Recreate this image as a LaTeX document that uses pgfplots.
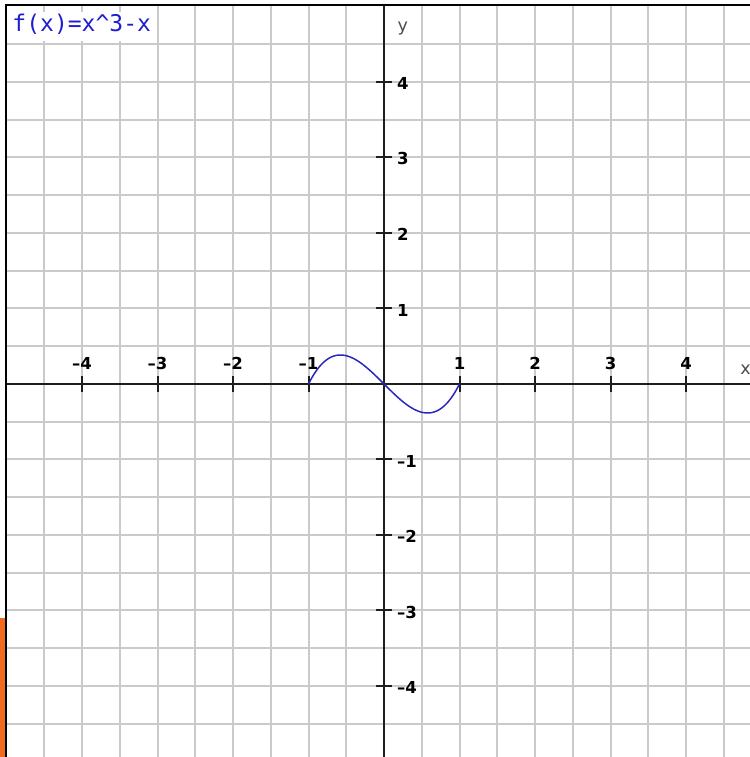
\documentclass[border=0pt]{standalone}
\usepackage{pgfplots}
\pgfplotsset{compat=1.18}
\usepackage{fontspec}
\setmainfont{DejaVu Sans}
\newfontfamily\monofont{DejaVu Sans Mono}
\definecolor{gridgray}{RGB}{202,202,202}
\definecolor{curveblue}{RGB}{40,40,185}
\definecolor{titleblue}{RGB}{30,30,205}
\definecolor{edgeorange}{RGB}{242,106,30}
\definecolor{axisdark}{RGB}{30,30,30}

% f(x) = x^3 - x sampled on [-1, 1]
\pgfplotstableread{
x       y
-1.00   0.0000
-0.95   0.0926
-0.90   0.1710
-0.85   0.2359
-0.80   0.2880
-0.75   0.3281
-0.70   0.3570
-0.65   0.3754
-0.60   0.3840
-0.55   0.3836
-0.50   0.3750
-0.45   0.3589
-0.40   0.3360
-0.35   0.3071
-0.30   0.2730
-0.25   0.2344
-0.20   0.1920
-0.15   0.1466
-0.10   0.0990
-0.05   0.0499
 0.00   0.0000
 0.05  -0.0499
 0.10  -0.0990
 0.15  -0.1466
 0.20  -0.1920
 0.25  -0.2344
 0.30  -0.2730
 0.35  -0.3071
 0.40  -0.3360
 0.45  -0.3589
 0.50  -0.3750
 0.55  -0.3836
 0.60  -0.3840
 0.65  -0.3754
 0.70  -0.3570
 0.75  -0.3281
 0.80  -0.2880
 0.85  -0.2359
 0.90  -0.1710
 0.95  -0.0926
 1.00   0.0000
}\cubic

\pgfplotsset{
  common/.style={
    at={(0,0)}, anchor=south west,
    scale only axis, width=297.6pt, height=300.8pt,
    xmin=-5.0066, xmax=4.8477, ymin=-4.9404, ymax=5.0199,
  },
}
\tikzset{ticklab/.style={inner sep=0pt, font=\bfseries\fontsize{6.6}{7.5}\selectfont}}

\begin{document}
\begin{tikzpicture}
% half-unit grid
\begin{axis}[common,
  axis line style={draw=none},
  xtick={-4.5,-4,...,4.5}, ytick={-4.5,-4,...,4.5},
  xticklabels={}, yticklabels={},
  major tick length=0pt,
  grid=major, grid style={gridgray, line width=0.8pt},
]
\end{axis}
% coordinate axes and the curve
\begin{axis}[common,
  axis lines=middle,
  axis line style={-, axisdark, line width=0.7pt},
  xtick={-4,-3,-2,-1,1,2,3,4}, ytick={-4,-3,-2,-1,1,2,3,4},
  xticklabels={}, yticklabels={},
  tick align=center, major tick length=6.4pt,
  tick style={axisdark, line width=0.8pt},
  clip=false,
]
\addplot[curveblue, line width=0.6pt, smooth] table[x=x, y=y] {\cubic};
\pgfplotsinvokeforeach{1,2,3,4}{
  \node[ticklab, anchor=base] at ([yshift=5.6pt]axis cs:#1,0) {#1};
  \node[ticklab, anchor=base] at ([yshift=5.6pt]axis cs:-#1,0) {\textendash#1};
  \node[ticklab, anchor=west] at ([xshift=5.0pt,yshift=-0.6pt]axis cs:0,#1) {#1};
  \node[ticklab, anchor=west] at ([xshift=5.0pt,yshift=-0.6pt]axis cs:0,-#1) {\textendash#1};
}
\node[inner sep=0pt, text=black!70, font=\fontsize{7}{8}\selectfont]
  at (axis cs:4.79,0.19) {x};
\node[inner sep=0pt, text=black!70, font=\fontsize{7}{8}\selectfont]
  at (axis cs:0.25,4.71) {y};
\end{axis}
% title box
\fill[white] (1.2pt,286.4pt) rectangle (59pt,298pt);
\node[anchor=base west, inner sep=0pt, text=titleblue,
      font=\monofont\fontsize{9.2}{10}\selectfont]
  at (2.4pt,290.0pt) {f(x)=x\textasciicircum 3-x};
% frame and edge strip
\draw[black, line width=0.8pt] (0,0) -- (0,300.8pt) -- (297.6pt,300.8pt);
\fill[edgeorange] (-2.4pt,0) rectangle (-0.5pt,55.6pt);
\pgfresetboundingbox
\path (-2.4pt,0) rectangle (297.6pt,302.8pt);
\end{tikzpicture}
\end{document}
